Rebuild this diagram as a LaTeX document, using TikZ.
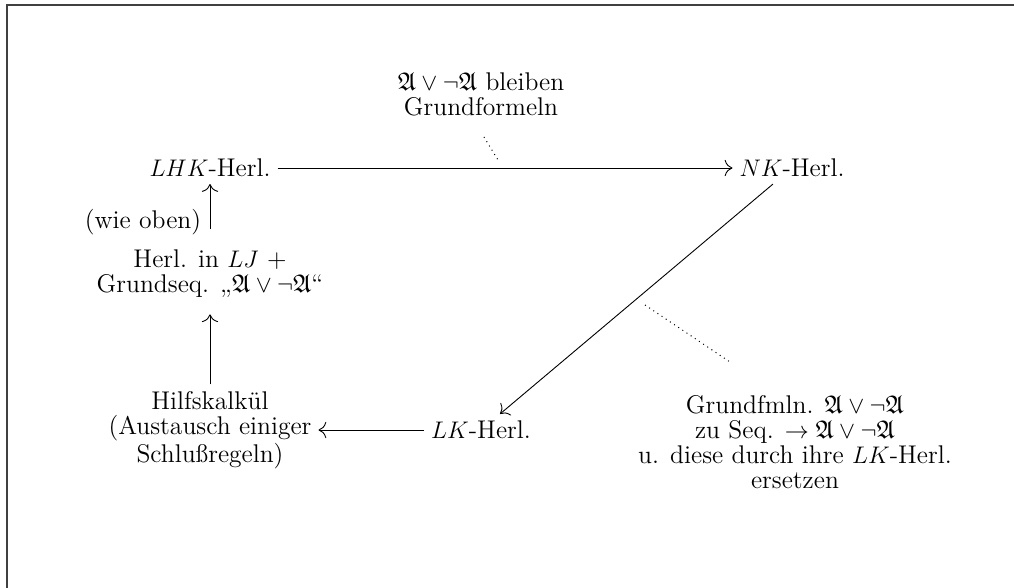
\documentclass[tikz,border=0pt]{standalone}
\usepackage{amssymb}
\usetikzlibrary{arrows.meta}
\begin{document}
\begin{tikzpicture}[x=0.5pt,y=-0.5pt,
  >={To[scale=1.5]},
  lbl/.style={align=center,font=\fontsize{12.8}{12.4}\selectfont},
  arr/.style={->,line width=0.45pt},
  dots/.style={dotted,line width=0.5pt}]
\useasboundingbox (0,0) rectangle (1014,588);
\draw[line width=1pt,black!75] (1014,5) -- (7,5) -- (7,588);
\node[lbl] (top) at (481,94) {$\mathfrak{A}\lor\neg\mathfrak{A}$ bleiben\\Grundformeln};
\node[lbl] (lhk) at (210,168) {$LHK$-Herl.};
\node[lbl] (nk) at (792,168) {$NK$-Herl.};
\node[lbl] (wie) at (143,222) {(wie oben)};
\node[lbl] (lj) at (210,273.5) {Herl. in $LJ$ +\\Grundseq. „$\mathfrak{A}\lor\neg\mathfrak{A}$“};
\node[lbl] (hilf) at (210,430) {Hilfskalkül\\(Austausch einiger\\Schlußregeln)};
\node[lbl] (lk) at (481,430) {$LK$-Herl.};
\node[lbl] (rn) at (795,442) {Grundfmln. $\mathfrak{A}\lor\neg\mathfrak{A}$\\zu Seq. $\rightarrow\mathfrak{A}\lor\neg\mathfrak{A}$\\u. diese durch ihre $LK$-Herl.\\ersetzen};
\coordinate (d1a) at (484,137);
\coordinate (d1b) at (498,160);
\coordinate (d2a) at (645,305);
\coordinate (d2b) at (730,362);
\draw[arr] (lhk) -- (nk);
\draw[arr,shorten <=7pt] (lj) -- (lhk);
\draw[arr,shorten >=5pt] (hilf) -- (lj);
\draw[arr] (lk) -- (hilf);
\draw[arr] (nk) -- (lk);
\draw[dots] (d1a) -- (d1b);
\draw[dots] (d2a) -- (d2b);
\end{tikzpicture}
\end{document}
